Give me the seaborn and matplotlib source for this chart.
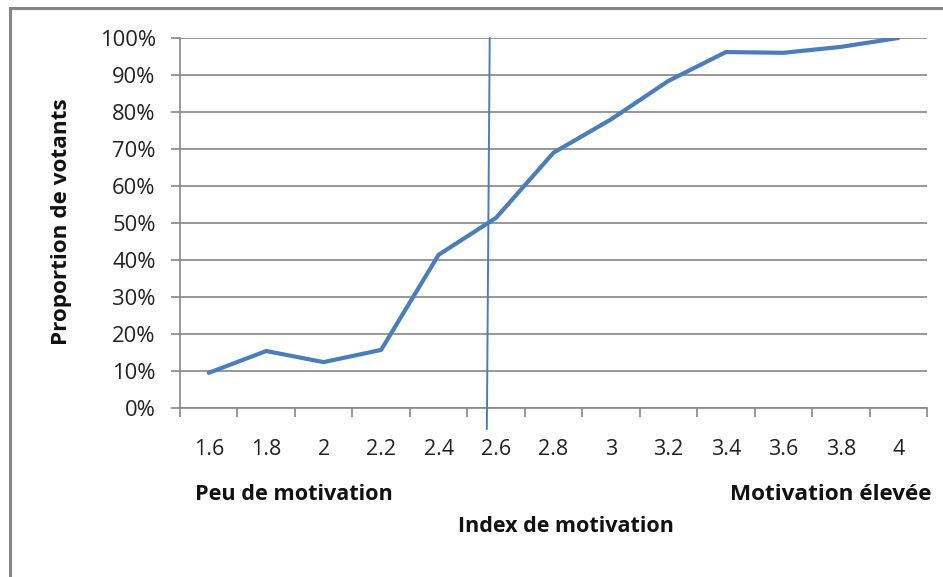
import numpy as np
import pandas as pd
import seaborn as sns
import matplotlib.pyplot as plt
from matplotlib.patches import Rectangle

# motivation index categories and share of voters
motivation = [1.6, 1.8, 2.0, 2.2, 2.4, 2.6, 2.8, 3.0, 3.2, 3.4, 3.6, 3.8, 4.0]
tick_labels = ["1.6", "1.8", "2", "2.2", "2.4", "2.6", "2.8", "3", "3.2", "3.4", "3.6", "3.8", "4"]
voters = [0.095, 0.154, 0.124, 0.157, 0.414, 0.514, 0.69, 0.78, 0.884, 0.962, 0.960, 0.976, 1.0]

# hand-drawn cut-off line (motivation value, proportion)
cut_x = [2.568, 2.578]
cut_y = [-0.057, 1.0]

blue = "#4a7ebb"
grey = "#868686"

sns.set_style("ticks")
plt.rcParams["font.family"] = ["Open Sans", "DejaVu Sans"]

W, H = 943, 577
fig = plt.figure(figsize=(W / 100, H / 100), dpi=100)
ax = fig.add_axes([180 / W, (H - 408) / H, (927 - 180) / W, (408 - 38) / H])

# category axis: position = index of the category
step = motivation[1] - motivation[0]
df = pd.DataFrame({"pos": [(m - motivation[0]) / step for m in motivation], "val": voters})
sns.lineplot(data=df, x="pos", y="val", color=blue, linewidth=3.0, ax=ax, zorder=3)

cut = pd.DataFrame({"pos": [(c - motivation[0]) / step for c in cut_x], "val": cut_y})
sns.lineplot(data=cut, x="pos", y="val", color=blue, linewidth=1.4, sort=False,
             ax=ax, clip_on=False, zorder=4)

n = len(motivation)
ax.set_xlim(-0.5, n - 0.5)
ax.set_ylim(0, 1)
ax.set_xticks(range(n))
ax.set_xticklabels(tick_labels)
ax.set_xticks(np.arange(-0.5, n, 1.0), minor=True)
ax.set_yticks(np.arange(0, 1.01, 0.1))
ax.set_yticklabels(["%d%%" % round(v * 100) for v in np.arange(0, 1.01, 0.1)])

ax.yaxis.grid(True, color=grey, linewidth=1.2)
ax.set_axisbelow(True)
for s in ["top", "right"]:
    ax.spines[s].set_visible(False)
for s in ["left", "bottom"]:
    ax.spines[s].set_color(grey)
    ax.spines[s].set_linewidth(1.2)

ax.tick_params(axis="x", which="major", length=0, pad=22, labelsize=15.5, labelcolor="#222222")
ax.tick_params(axis="x", which="minor", length=6.5, width=1.2, color=grey, direction="out")
ax.tick_params(axis="y", length=6.5, width=1.2, color=grey, pad=11, labelsize=15.8,
               labelcolor="#222222")

ax.set_xlabel("")
ax.set_ylabel("")

fig.text(62 / W, 1 - 222 / H, "Proportion de votants", rotation=90, ha="center", va="center",
         fontsize=16.2, fontweight="bold", color="#111111")
fig.text(566 / W, 1 - 527 / H, "Index de motivation", ha="center", va="center",
         fontsize=15.5, fontweight="bold", color="#111111")
fig.text(195 / W, 1 - 494 / H, "Peu de motivation", ha="left", va="center",
         fontsize=15.6, fontweight="bold", color="#111111")
fig.text(932 / W, 1 - 494 / H, "Motivation élevée", ha="right", va="center",
         fontsize=16.2, fontweight="bold", color="#111111")

# outer chart frame
fig.patches.append(Rectangle((10 / W, -0.1), 1.1, 1 - 8 / H + 0.1, transform=fig.transFigure,
                             fill=False, edgecolor=grey, linewidth=2.2))

fig.savefig("out.png", dpi=100)
